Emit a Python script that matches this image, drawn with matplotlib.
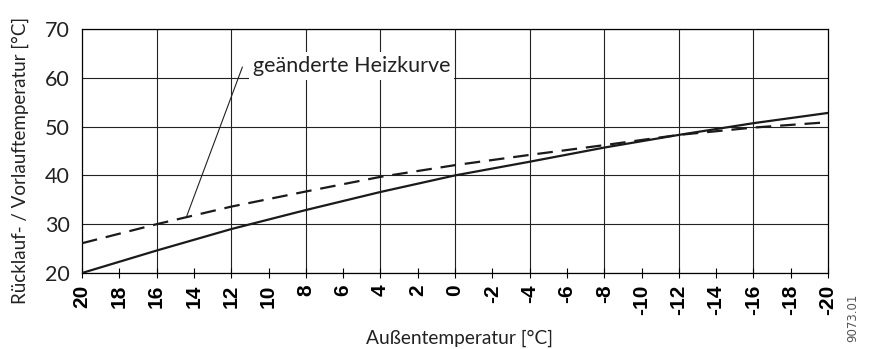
import numpy as np
import matplotlib.pyplot as plt

# Daten
aussen = [20, 16, 12, 8, 4, 0, -4, -8, -12, -16, -20]
heizkurve = [20.0, 24.6, 29.0, 32.9, 36.6, 40.0, 42.8, 45.7, 48.3, 50.7, 52.8]
geaendert = [26.1, 30.0, 33.6, 36.7, 39.7, 42.1, 44.2, 46.2, 48.3, 49.8, 50.9]

x_ticks = list(range(20, -21, -2))
x_labels = [str(t) for t in x_ticks]
y_ticks = [20, 30, 40, 50, 60, 70]

fig = plt.figure(figsize=(8.73, 3.49), dpi=100)
ax = fig.add_axes([82/873, 1-273/349, (828-82)/873, (273-29)/349])

ax.plot(aussen, heizkurve, color='#1a1a1a', linewidth=1.6, zorder=3)
ax.plot(aussen, geaendert, color='#1a1a1a', linewidth=1.6, dashes=(7, 4), zorder=3)

ax.set_xlim(20, -20)
ax.set_ylim(20, 70)

# Gitter
ax.grid(True, axis='y', color='#222222', linewidth=0.8, zorder=1)
for v in range(16, -20, -4):
    ax.axvline(v, color='#222222', linewidth=0.8, zorder=1)
ax.set_xticks(x_ticks)
ax.set_xticklabels(x_labels, rotation=90, fontfamily='Liberation Sans',
                   fontweight='bold', fontsize=15)
ax.set_yticks(y_ticks)
ax.set_yticklabels([str(t) for t in y_ticks], fontfamily='Lato', fontsize=15.5,
                   color='#222222')
ax.tick_params(axis='x', direction='inout', length=7, width=0.8, pad=5)
ax.tick_params(axis='y', length=0, pad=9)
for s in ax.spines.values():
    s.set_linewidth(0.9)

# Beschriftung Kurve
ax.annotate('', xy=(14.4, 31.5), xytext=(11.4, 62.2),
            arrowprops=dict(arrowstyle='-', color='#222222', lw=0.8,
                            shrinkA=0, shrinkB=0), zorder=5)
ax.text(10.85, 62.4, 'geänderte Heizkurve', fontfamily='Lato', fontsize=15.5,
        va='center', ha='left', color='#222222', zorder=4,
        bbox=dict(facecolor='white', edgecolor='none', pad=3))

fig.text(20/873, 1-160/349, 'Rücklauf- / Vorlauftemperatur [°C]', rotation=90,
         fontfamily='Lato', fontsize=13.5, ha='center', va='center', color='#222222')
fig.text(459/873, 1-338/349, 'Außentemperatur [°C]', fontfamily='Lato',
         fontsize=13.8, ha='center', va='center', color='#222222')
fig.text(853/873, 1-318/349, '9073.01', rotation=90, fontfamily='Liberation Sans Narrow',
         fontsize=8.5, ha='center', va='center', color='#555555')

fig.savefig('out.png', dpi=100)
